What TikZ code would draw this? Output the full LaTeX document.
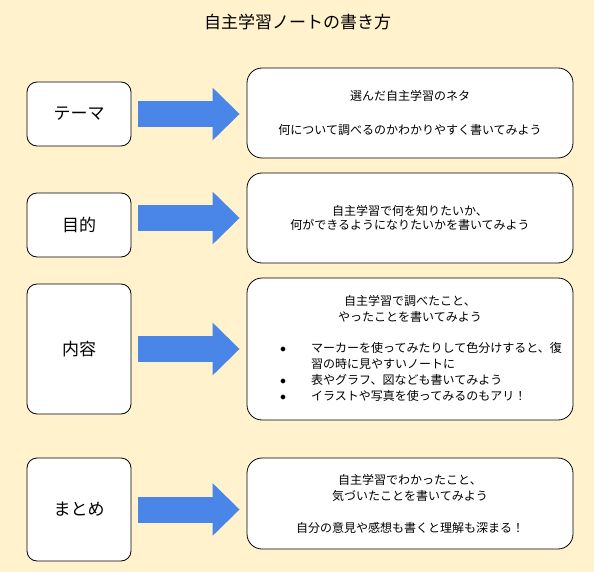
\documentclass[tikz,border=0pt]{standalone}
\usepackage{fontspec}
\setmainfont{Noto Sans CJK JP}
\usepackage{tikz}
\usetikzlibrary{positioning}
\usetikzlibrary{arrows.meta}
\definecolor{bgyellow}{HTML}{FFF2CC}
\definecolor{arrowblue}{HTML}{4A86E8}
\tikzset{
    labelbox/.style = {rectangle, rounded corners=10pt, draw=black, line width=0.8pt, fill=white, align=center, minimum width=104pt, font=\fontsize{17}{20}\selectfont, text=black},
    notebox/.style = {rectangle, rounded corners=15pt, draw=black, line width=0.8pt, fill=white, align=center, minimum width=326pt, minimum height=90pt, font=\fontsize{12}{16}\selectfont, text=black},
    notetext/.style = {align=center, inner sep=0pt, font=\fontsize{12}{16}\selectfont, text=black},
    titletext/.style = {font=\fontsize{17}{20}\selectfont, text=black},
    bigarrow/.style = {-{Triangle[length=27pt,width=51pt]}, line width=26pt, arrowblue, shorten <=7pt, shorten >=7pt}
}
\newcommand{\B}{$\bullet$}

\begin{document}
\begin{tikzpicture}[x=1pt,y=-1pt]
\fill[bgyellow] (0,0) rectangle (594,572);
\node[titletext] at (297.5, 22.0) (title) {自主学習ノートの書き方};

\node[labelbox, minimum height=64pt] at (79.0, 114.0) (theme) {テーマ};
\node[labelbox, minimum height=64pt] at (79.0, 225.0) (goal) {目的};
\node[labelbox, minimum height=130pt] at (79.0, 349.0) (content) {内容};
\node[labelbox, minimum height=103pt] at (79.0, 509.5) (summary) {まとめ};

\node[notebox] at (410.0, 113.0) (themenote) {選んだ自主学習のネタ\\[1pt]\\[1pt]何について調べるのかわかりやすく書いてみよう};
\node[notebox] at (410.0, 218.0) (goalnote) {自主学習で何を知りたいか、\\[-2pt]何ができるようになりたいかを書いてみよう};
\node[notebox, minimum height=142pt] at (410.0, 349.0) (contentnote) {};
\node[notetext] at (410.0, 309.0) (contenthead) {自主学習で調べたこと、\\やったことを書いてみよう};
\node[notetext, anchor=west] at (280.0, 373.5) (contentlist) {%
  \begin{tabular}{@{}p{31pt}@{}l@{}}
  \B & マーカーを使ってみたりして色分けすると、復\\
     & 習の時に見やすいノートに\\
  \B & 表やグラフ、図なども書いてみよう\\
  \B & イラストや写真を使ってみるのもアリ！
  \end{tabular}};
\node[notebox, minimum height=91pt] at (410.0, 503.5) (summarynote) {自主学習でわかったこと、\\気づいたことを書いてみよう\\\\自分の意見や感想も書くと理解も深まる！};

\draw[bigarrow] (theme.east) -- (theme.east -| themenote.west);
\draw[bigarrow] (goalnote.west -| goal.east) -- (goalnote.west);
\draw[bigarrow] (content.east) -- (content.east -| contentnote.west);
\draw[bigarrow] (summary.east) -- (summary.east -| summarynote.west);

\end{tikzpicture}
\end{document}
